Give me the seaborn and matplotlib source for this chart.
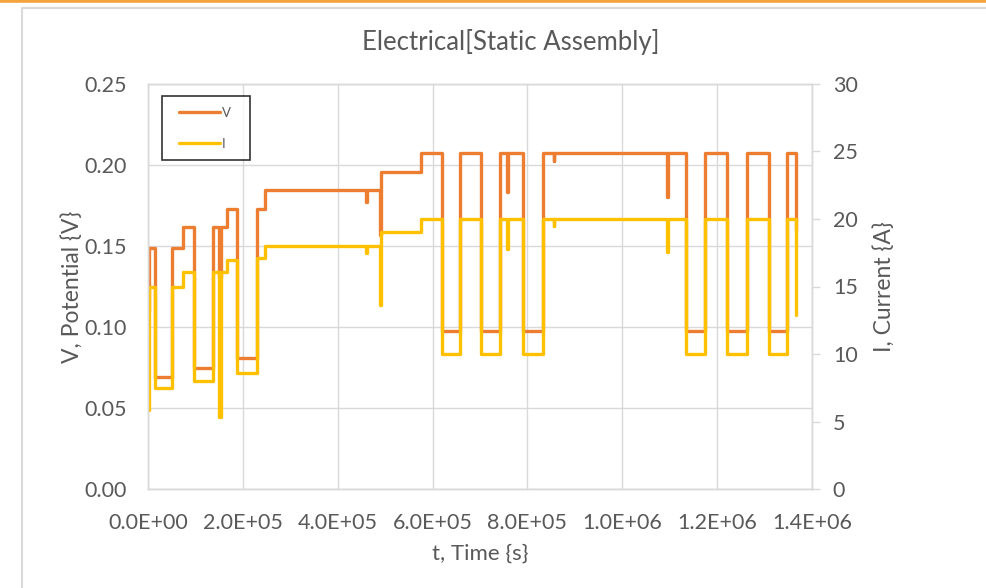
import matplotlib
matplotlib.use("Agg")
import matplotlib.pyplot as plt
from matplotlib.lines import Line2D
from matplotlib.legend_handler import HandlerLine2D
from matplotlib.ticker import FixedLocator, FuncFormatter
import seaborn as sns
import pandas as pd

# Logged step changes: time (s), potential (V), current (A)
time_s = [0, 2e3, 15e3, 51e3, 73e3, 97e3, 137e3, 150e3, 153e3, 166e3,
          187e3, 229e3, 246e3, 460e3, 462e3, 490e3, 492e3, 576e3, 620e3, 657e3,
          703e3, 743e3, 757e3, 759e3, 790e3, 832e3, 855e3, 857e3, 1094e3, 1096e3,
          1134e3, 1175e3, 1220e3, 1262e3, 1309e3, 1348e3, 1367e3]
potential_v = [0.11, 0.149, 0.069, 0.149, 0.162, 0.075, 0.162, 0.13, 0.162, 0.173,
               0.081, 0.173, 0.1845, 0.1774, 0.1845, 0.157, 0.1957, 0.2075, 0.0975, 0.2075,
               0.0975, 0.2075, 0.1835, 0.2075, 0.0975, 0.2075, 0.2026, 0.2075, 0.180, 0.2075,
               0.0977, 0.2075, 0.0977, 0.2075, 0.0977, 0.2075, 0.16]
current_a = [5.85, 15.0, 7.5, 15.0, 16.1, 8.0, 16.1, 5.3, 16.1, 17.0,
             8.6, 17.1, 18.0, 17.5, 18.0, 13.6, 19.0, 20.0, 10.0, 20.0,
             10.0, 20.0, 17.8, 20.0, 10.0, 20.0, 19.5, 20.0, 17.55, 20.0,
             10.0, 20.0, 10.0, 20.0, 10.0, 20.0, 12.9]

x_ticks = [0, 2e5, 4e5, 6e5, 8e5, 1e6, 1.2e6, 1.4e6]
v_ticks = [0.00, 0.05, 0.10, 0.15, 0.20, 0.25]
i_ticks = [0, 5, 10, 15, 20, 25, 30]

df = pd.DataFrame({"t": time_s, "V": potential_v, "I": current_a})

sns.set_theme(style="white")
plt.rcParams["font.family"] = ["Lato", "DejaVu Sans"]

TEXT = "#595959"
GRID = "#D9D9D9"
V_COLOR = "#ED7D31"
I_COLOR = "#FFC000"

fig = plt.figure(figsize=(9.86, 5.88), dpi=100)
fig.patch.set_facecolor("white")
ax = fig.add_axes([148 / 986, 99 / 588, 664 / 986, 405 / 588])
ax2 = ax.twinx()

sns.lineplot(data=df, x="t", y="V", ax=ax, color=V_COLOR, linewidth=2.4,
             drawstyle="steps-post", estimator=None, sort=False, label="V", legend=False)
sns.lineplot(data=df, x="t", y="I", ax=ax2, color=I_COLOR, linewidth=2.4,
             drawstyle="steps-post", estimator=None, sort=False, label="I", legend=False)

ax.set_xlim(0, 1.4e6)
ax.set_ylim(0, 0.25)
ax2.set_ylim(0, 30)

ax.xaxis.set_major_locator(FixedLocator(x_ticks))
ax.xaxis.set_major_formatter(FuncFormatter(lambda v, p: f"{v:.1E}"))
ax.yaxis.set_major_locator(FixedLocator(v_ticks))
ax.yaxis.set_major_formatter(FuncFormatter(lambda v, p: f"{v:.2f}"))
ax2.yaxis.set_major_locator(FixedLocator(i_ticks))
ax2.yaxis.set_major_formatter(FuncFormatter(lambda v, p: f"{v:.0f}"))

ax.grid(True, color=GRID, linewidth=1.0)
ax2.grid(False)
ax.set_axisbelow(True)

for a in (ax, ax2):
    for s in a.spines.values():
        s.set_color(GRID)
        s.set_linewidth(1.0)

ax.tick_params(axis="both", length=0, labelsize=15.5, labelcolor=TEXT, pad=15)
ax.tick_params(axis="x", pad=17)
ax2.tick_params(axis="y", length=6, width=1.0, color=GRID, labelsize=15.5,
                labelcolor=TEXT, pad=9, direction="out", right=True)

ax.set_xlabel("t, Time {s}", fontsize=16, color=TEXT, labelpad=8)
ax.set_ylabel("V, Potential {V}", fontsize=16.5, color=TEXT, labelpad=1)
ax2.set_ylabel("I, Current {A}", fontsize=16.5, color=TEXT, labelpad=11)
fig.text(511 / 986, 1 - 42 / 588, "Electrical[Static Assembly]", fontsize=18.5,
         color=TEXT, ha="center", va="center")

handles = ax.get_lines()[:1] + ax2.get_lines()[:1]
leg = ax2.legend(handles, ["V", "I"], loc="upper left",
                 bbox_to_anchor=(0.0206, 0.0, 0.1325, 0.970), mode="expand",
                 borderaxespad=0, fontsize=9.5, frameon=True, fancybox=False,
                 handlelength=3.6, labelspacing=1.45, borderpad=0.8, handletextpad=0.15,
                 handler_map={Line2D: HandlerLine2D(xpad=0.5)})
leg.get_frame().set_edgecolor("black")
leg.get_frame().set_linewidth(1.2)
for txt in leg.get_texts():
    txt.set_color(TEXT)

# page trim around the chart
fig.add_artist(Line2D([0, 1], [1 - 1.2 / 588, 1 - 1.2 / 588], transform=fig.transFigure,
                      color="#F5A33B", linewidth=2.6))
fig.add_artist(Line2D([21.5 / 986, 21.5 / 986, 1], [0, 1 - 7.5 / 588, 1 - 7.5 / 588],
                      transform=fig.transFigure, color=GRID, linewidth=1.5))

fig.savefig("out.png", dpi=100, facecolor="white")
